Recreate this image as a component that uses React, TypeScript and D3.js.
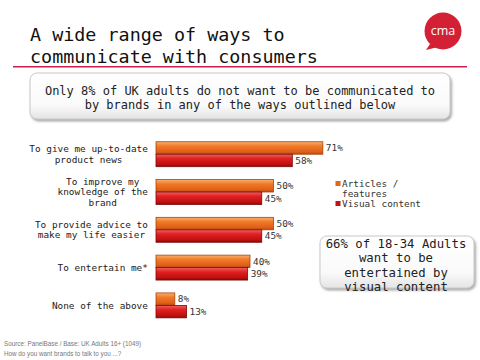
import * as d3 from 'd3';

const categories = [
  'To give me up-to-date\nproduct news',
  'To improve my\nknowledge of the\nbrand',
  'To provide advice to\nmake my life easier',
  'To entertain me*',
  'None of the above',
];
const seriesNames = ['Articles /\nfeatures', 'Visual content'];
const articles = [71, 50, 50, 40, 8];
const visual = [58, 45, 45, 39, 13];

const titleLines = ['A wide range of ways to', 'communicate with consumers'];
const subtitleLines = [
  'Only 8% of UK adults do not want to be communicated to',
  'by brands in any of the ways outlined below',
];
const calloutLines = ['66% of 18-34 Adults', 'want to be', 'entertained by', 'visual content'];
const footerLines = ['Source: PanelBase / Base: UK Adults 16+ (1049)', 'How do you want brands to talk to you ...?'];

const MONO = "'DejaVu Sans Mono', 'Liberation Mono', monospace";
const W = 480;
const H = 360;

const x = d3.scaleLinear().domain([0, 100]).range([156, 391]);
const y = d3.scaleBand<number>().domain(d3.range(categories.length)).range([128.9, 330.7]).padding(0.34);
const ySeries = d3.scaleBand<number>().domain([0, 1]).range([0, y.bandwidth()]);
const values = [articles, visual];
const fills = ['url(#gOrange)', 'url(#gRed)'];
const strokes = ['#a8430c', '#7a0a0a'];
const legendColors = ['#e0661e', '#c0141c'];

const LABEL_FS = 9.4;
const CHAR_W = LABEL_FS * 0.602;

export default function App() {
  return (
    <svg width={W} height={H} style={{ position: 'absolute', left: 0, top: 0, background: '#fff' }}>
      <defs>
        <linearGradient id="gOrange" x1="0" y1="0" x2="0" y2="1">
          <stop offset="0" stopColor="#fbb070" />
          <stop offset="0.35" stopColor="#f07a28" />
          <stop offset="0.8" stopColor="#e0601a" />
          <stop offset="1" stopColor="#b84a10" />
        </linearGradient>
        <linearGradient id="gRed" x1="0" y1="0" x2="0" y2="1">
          <stop offset="0" stopColor="#f06060" />
          <stop offset="0.35" stopColor="#e02020" />
          <stop offset="0.8" stopColor="#c01010" />
          <stop offset="1" stopColor="#8a0808" />
        </linearGradient>
        <linearGradient id="gBox" x1="0" y1="0" x2="0" y2="1">
          <stop offset="0" stopColor="#ffffff" />
          <stop offset="0.7" stopColor="#fafafa" />
          <stop offset="1" stopColor="#e4e4e4" />
        </linearGradient>
        <filter id="shadow" x="-10%" y="-20%" width="120%" height="150%">
          <feDropShadow dx="1.5" dy="2" stdDeviation="1.2" floodColor="#888" floodOpacity="0.7" />
        </filter>
      </defs>

      {/* title */}
      {titleLines.map((t, i) => (
        <text key={i} x={30} y={40.5 + i * 22.5} fontFamily={MONO} fontSize={18.4} fill="#111">
          {t}
        </text>
      ))}
      <line x1={13} x2={467} y1={66.7} y2={66.7} stroke="#cc2048" strokeWidth={1.5} />

      {/* logo */}
      <g>
        <path d="M430,44 L426,50 L438,47 Z" fill="#d42034" />
        <circle cx={443} cy={31} r={18.5} fill="#d42034" />
        <text x={443} y={35} textAnchor="middle" fontFamily="'Open Sans', sans-serif" fontSize={12.5} fill="#fff">
          cma
        </text>
      </g>

      {/* subtitle box */}
      <rect x={30} y={73} width={420} height={46} rx={7} fill="url(#gBox)" stroke="#c8c8c8" filter="url(#shadow)" />
      {subtitleLines.map((t, i) => (
        <text key={i} x={240} y={95 + i * 14} textAnchor="middle" fontFamily={MONO} fontSize={12} fill="#222">
          {t}
        </text>
      ))}

      {/* category labels */}
      {categories.map((c, i) => {
        const lines = c.split('\n');
        const maxW = d3.max(lines, (l) => l.length)! * CHAR_W;
        const cx = 148 - maxW / 2;
        const cy = y(i)! + y.bandwidth() / 2;
        const lh = 10.3;
        const top = cy - ((lines.length - 1) * lh) / 2;
        return lines.map((l, j) => (
          <text key={`${i}-${j}`} x={cx} y={top + j * lh} dy="0.35em" textAnchor="middle" fontFamily={MONO} fontSize={LABEL_FS} fill="#222">
            {l}
          </text>
        ));
      })}

      {/* bars */}
      {values.map((vals, s) =>
        vals.map((v, i) => {
          const by = y(i)! + ySeries(s)!;
          const bh = ySeries.bandwidth();
          return (
            <g key={`${s}-${i}`}>
              <rect x={x(0)} y={by} width={x(v) - x(0)} height={bh} fill={fills[s]} stroke={strokes[s]} strokeWidth={0.8} />
              <text x={x(v) + 3} y={by + bh / 2} dy="0.35em" fontFamily={MONO} fontSize={LABEL_FS} fill="#333">
                {v}%
              </text>
            </g>
          );
        })
      )}

      {/* legend */}
      {seriesNames.map((name, s) => {
        const ly = 184 + s * 20;
        return (
          <g key={s}>
            <rect x={335.5} y={ly - 3} width={5} height={5} fill={legendColors[s]} />
            {name.split('\n').map((l, j) => (
              <text key={j} x={342} y={ly + j * 10} dy="0.35em" fontFamily={MONO} fontSize={LABEL_FS} fill="#333">
                {l}
              </text>
            ))}
          </g>
        );
      })}

      {/* callout */}
      <rect x={320} y={236} width={154} height={52} rx={7} fill="url(#gBox)" stroke="#c8c8c8" filter="url(#shadow)" />
      {calloutLines.map((t, i) => (
        <text key={i} x={396} y={243.5 + i * 14.4} dy="0.35em" textAnchor="middle" fontFamily={MONO} fontSize={12.3} fill="#222">
          {t}
        </text>
      ))}

      {/* footer */}
      {footerLines.map((t, i) => (
        <text key={i} x={4} y={346 + i * 10} fontFamily="'Liberation Sans', Arial, sans-serif" fontSize={6.3} fill="#777">
          {t}
        </text>
      ))}
    </svg>
  );
}
